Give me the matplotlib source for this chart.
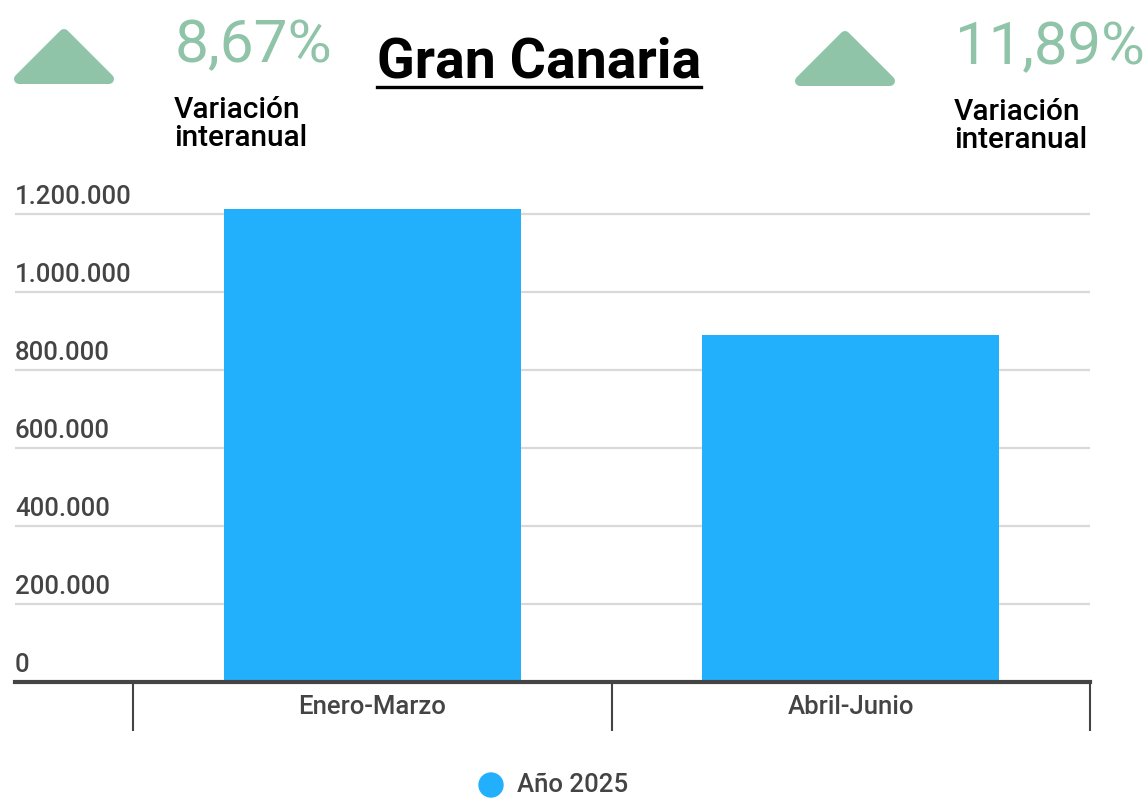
import matplotlib
matplotlib.use("Agg")
import matplotlib.pyplot as plt
from matplotlib.patches import Polygon, Circle
from matplotlib.transforms import blended_transform_factory
from matplotlib.lines import Line2D

plt.rcParams['font.family'] = ['Roboto', 'DejaVu Sans']

# ---- data ----
categories = ["Enero-Marzo", "Abril-Junio"]
values_2025 = [1213000, 890000]
series_name = "Año 2025"
yticks = [0, 200000, 400000, 600000, 800000, 1000000, 1200000]
ytick_labels = ["0", "200.000", "400.000", "600.000", "800.000", "1.000.000", "1.200.000"]
title = "Gran Canaria"
variation_left = "8,67%"
variation_right = "11,89%"
variation_label = "Variación\ninteranual"

BAR = "#22B0FC"
GREEN = "#8FC4A8"
DARK = "#444444"
GRID = "#D9D9D9"

W, H = 1148, 799
fig = plt.figure(figsize=(W / 100, H / 100), dpi=100)

def px(x, y):
    return x / W, 1 - y / H

# main axes: pixel box left 15, right 1090, baseline 682, top 175 (1.3M)
left, right, bottom, top = 15, 1090, 682, 175
ax = fig.add_axes([left / W, 1 - bottom / H, (right - left) / W, (bottom - top) / H])
x = list(range(len(categories)))
ax.bar(x, values_2025, width=0.62, color=BAR, zorder=3)
ax.set_xlim(-0.747, 1.5)
ax.set_ylim(0, 1300000)

for s in ["top", "right", "left"]:
    ax.spines[s].set_visible(False)
ax.spines["bottom"].set_color(DARK)
ax.spines["bottom"].set_linewidth(3)
ax.spines["bottom"].set_zorder(4)

ax.set_yticks(yticks)
ax.set_yticklabels([])
ax.tick_params(axis="y", length=0)
ax.yaxis.grid(True, color=GRID, linewidth=1.6, zorder=0)
ax.set_axisbelow(True)

tr = blended_transform_factory(ax.transAxes, ax.transData)
for v, lab in zip(yticks, ytick_labels):
    ax.annotate(lab, xy=(0, v), xycoords=tr, xytext=(0, 3.5), textcoords="offset points",
                ha="left", va="bottom", fontsize=18.5, color=DARK, fontweight="medium")

ax.set_xticks(x)
ax.set_xticklabels(categories, fontsize=18.5, color=DARK, fontweight="medium")
ax.tick_params(axis="x", which="major", length=0, pad=9)
ax.set_xticks([i - 0.5 for i in range(len(categories) + 1)], minor=True)
ax.tick_params(axis="x", which="minor", length=35, width=1.5, color=DARK, direction="out")

# overlay axes in pixel coordinates for decorations
ov = fig.add_axes([0, 0, 1, 1], zorder=-1)
ov.set_xlim(0, W)
ov.set_ylim(H, 0)
ov.axis("off")

for dx, dy in [(0, 0), (781, 2)]:
    tri = Polygon([(64 + dx, 34 + dy), (19 + dx, 79 + dy), (109 + dx, 79 + dy)], closed=True,
                  facecolor=GREEN, edgecolor=GREEN, linewidth=7.2, joinstyle="round")
    ov.add_patch(tri)

fig.text(*px(175, 62), variation_left, fontsize=43.5, color=GREEN, ha="left", va="baseline")
fig.text(*px(955, 64), variation_right, fontsize=43, color=GREEN, ha="left", va="baseline")
fig.text(*px(174, 146), variation_label, fontsize=21.5, color="black", fontweight="medium",
         ha="left", va="baseline", linespacing=1.0)
fig.text(*px(954, 148), variation_label, fontsize=21.5, color="black", fontweight="medium",
         ha="left", va="baseline", linespacing=1.0)

t = fig.text(*px(377, 77), title, fontsize=40, color="black", fontweight="bold",
             ha="left", va="baseline")
fig.canvas.draw()
bb = t.get_window_extent(fig.canvas.get_renderer())
ov.add_line(Line2D([bb.x0, bb.x1], [86.5, 86.5], color="black", linewidth=2.4))

# legend
ov.add_patch(Circle((491, 785), 12, color=BAR))
fig.text(*px(517, 785), series_name, fontsize=18.5, color=DARK, fontweight="medium",
         ha="left", va="center")

fig.savefig("out.png", dpi=100)
